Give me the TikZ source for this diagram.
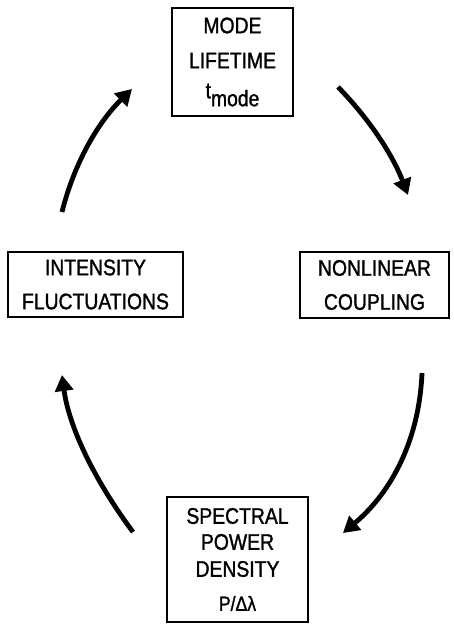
\documentclass[tikz,border=0pt]{standalone}
\usepackage{fontspec}
\setmainfont[FakeStretch=0.86,FakeBold=1.3]{Liberation Sans}
\usetikzlibrary{arrows.meta}
\begin{document}
\begin{tikzpicture}[x=1pt,y=-1pt,
  box/.style={draw=black, line width=1.8pt, rectangle, align=center, inner sep=0pt,
    font=\fontsize{22.5}{26}\selectfont},
  cyc/.style={line width=4.8pt, -{Triangle[length=16pt,width=18pt]}}]
\useasboundingbox (0,0) rectangle (454,631);
% boxes
\node[box, minimum width=121pt, minimum height=108pt] (mode) at (232.5,62)
  {MODE\\[9pt]LIFETIME\\[12pt]\raisebox{8pt}{t}mode};
\node[box, minimum width=175pt, minimum height=65pt] (int) at (95.5,284.5)
  {INTENSITY\\[8pt]FLUCTUATIONS};
\node[box, minimum width=149pt, minimum height=66pt] (nl) at (374.5,285)
  {NONLINEAR\\[8pt]COUPLING};
\node[box, minimum width=141pt, minimum height=125pt] (spd) at (237.5,559.5)
  {SPECTRAL\\[0pt]POWER\\[1pt]DENSITY\\[8pt]{\fontsize{20.5}{22}\selectfont P/Δλ}};
% arrow end points
\coordinate (a1s) at (62,212);  \coordinate (a1e) at (132,89);
\coordinate (a2s) at (338,87);  \coordinate (a2e) at (408,195);
\coordinate (a3s) at (422,373); \coordinate (a3e) at (343,533);
\coordinate (a4s) at (133,532); \coordinate (a4e) at (62,375);
\draw[cyc] (a1s) .. controls (74,164) and (97.3,123) .. (a1e);
\draw[cyc] (a2s) .. controls (369.3,119) and (392.7,155) .. (a2e);
\draw[cyc] (a3s) .. controls (419.3,437.7) and (393,491) .. (a3e);
\draw[cyc] (a4s) .. controls (92.3,477.3) and (68.7,425) .. (a4e);
\end{tikzpicture}
\end{document}
